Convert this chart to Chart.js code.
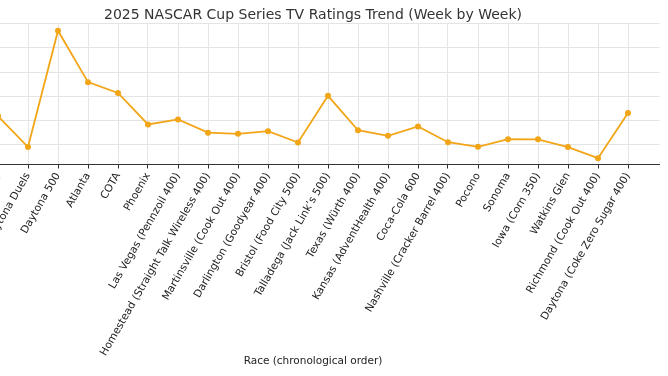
<!DOCTYPE html>
<html>
<head>
<meta charset="utf-8">
<script src="https://cdn.jsdelivr.net/npm/chart.js@4.4.0/dist/chart.umd.min.js"></script>
<style>
  html, body { margin: 0; padding: 0; background: #fff; overflow: hidden; }
  #wrap { position: relative; width: 668px; height: 376px; overflow: hidden; }
  #chart { position: absolute; left: -60px; top: 0; }
</style>
</head>
<body>
<div id="wrap"><canvas id="chart" width="740" height="376"></canvas></div>
<script>
// Races in chronological order (the first one sits off the left edge in the reference)
const races = [
  "Clash (Bowman Gray)",
  "Daytona Duels",
  "Daytona 500",
  "Atlanta",
  "COTA",
  "Phoenix",
  "Las Vegas (Pennzoil 400)",
  "Homestead (Straight Talk Wireless 400)",
  "Martinsville (Cook Out 400)",
  "Darlington (Goodyear 400)",
  "Bristol (Food City 500)",
  "Talladega (Jack Link\u2019s 500)",
  "Texas (W\u00fcrth 400)",
  "Kansas (AdventHealth 400)",
  "Coca-Cola 600",
  "Nashville (Cracker Barrel 400)",
  "Pocono",
  "Sonoma",
  "Iowa (Corn 350)",
  "Watkins Glen",
  "Richmond (Cook Out 400)",
  "Daytona (Coke Zero Sugar 400)"
];

// Viewers (millions)
const viewers = [
  3.17, 1.88, 6.72, 4.58, 4.13, 2.82, 3.03, 2.48, 2.43, 2.54, 2.07,
  4.01, 2.58, 2.35, 2.74, 2.08, 1.89, 2.21, 2.20, 1.88, 1.42, 3.30
];

// horizontal grid positions
const yTicks = [2, 3, 4, 5, 6, 7];

const lineColor = "#f2a516";
const gridColor = "#e4e4e4";
const axisColor = "#333333";
const textColor = "#222222";
const fontFamily = "'DejaVu Sans', sans-serif";

// matplotlib-like 5% margins around the data
const lo = Math.min(...viewers), hi = Math.max(...viewers);
const yPad = (hi - lo) * 0.05;
const xPad = (races.length - 1) * 0.05;

const points = viewers.map((v, i) => ({ x: i, y: v }));

const ctx = document.getElementById("chart").getContext("2d");
new Chart(ctx, {
  type: "line",
  data: {
    datasets: [{
      label: "Viewers",
      data: points,
      borderColor: lineColor,
      backgroundColor: lineColor,
      borderWidth: 1.8,
      pointRadius: 3,
      pointBorderWidth: 0,
      pointBackgroundColor: lineColor,
      tension: 0,
      fill: false
    }]
  },
  options: {
    responsive: false,
    animation: false,
    devicePixelRatio: 1,
    layout: { padding: { left: 26.5, right: 20.5, top: 0, bottom: 0 } },
    plugins: {
      legend: { display: false },
      tooltip: { enabled: false },
      title: {
        display: true,
        text: "2025 NASCAR Cup Series TV Ratings Trend (Week by Week)",
        color: "#333333",
        font: { family: fontFamily, size: 14, weight: "normal", lineHeight: 1.2 },
        padding: { top: 6.5, bottom: 1 }
      }
    },
    scales: {
      x: {
        type: "linear",
        min: -xPad,
        max: races.length - 1 + xPad,
        afterBuildTicks: (axis) => {
          axis.ticks = races.map((r, i) => ({ value: i }));
        },
        afterFit: (scale) => {
          scale.height = 211.5;
          scale.paddingLeft = 0;
          scale.paddingRight = 0;
        },
        grid: {
          display: true,
          color: gridColor,
          lineWidth: 1,
          drawTicks: true,
          tickLength: 4,
          tickColor: axisColor
        },
        border: { display: true, color: axisColor, width: 1 },
        ticks: {
          autoSkip: false,
          maxRotation: 60,
          minRotation: 60,
          padding: 2,
          color: textColor,
          font: { family: fontFamily, size: 10.6 },
          callback: (value) => races[value]
        },
        title: {
          display: true,
          text: "Race (chronological order)",
          color: textColor,
          font: { family: fontFamily, size: 10.5 },
          padding: { top: 0, bottom: 8 }
        }
      },
      y: {
        min: lo - yPad,
        max: hi + yPad,
        afterBuildTicks: (axis) => {
          axis.ticks = yTicks.map(v => ({ value: v }));
        },
        afterFit: (scale) => {
          scale.width = 0;
        },
        grid: { display: true, color: gridColor, lineWidth: 1, drawTicks: false },
        border: { display: false },
        ticks: { display: false }
      }
    }
  }
});
</script>
</body>
</html>
